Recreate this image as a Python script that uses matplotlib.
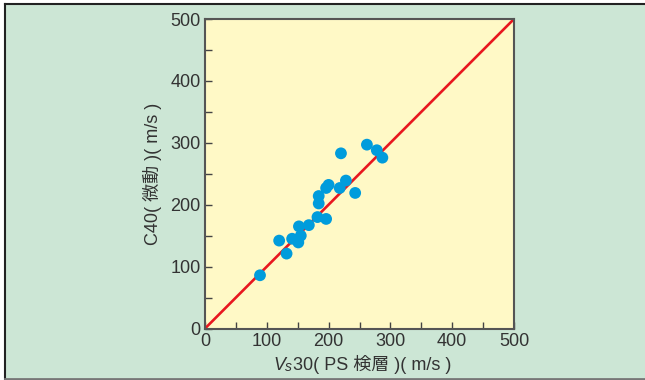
import numpy as np
import matplotlib
matplotlib.use("Agg")
import matplotlib.pyplot as plt
from matplotlib.patches import Rectangle
from matplotlib.ticker import MultipleLocator

plt.rcParams['font.family'] = ['Liberation Sans', 'Noto Sans CJK JP']

# Vs30 (PS logging) vs C40 (microtremor), m/s
vs30 = [89, 120, 132, 141, 151, 155, 152, 168, 182, 196, 184, 184, 196, 200, 218, 228, 243, 220, 262, 278, 287]
c40 = [86, 142, 121, 145, 139, 150, 165, 167, 180, 177, 202, 214, 227, 232, 227, 239, 219, 283, 297, 288, 276]
lim = [0, 500]

W, H = 645, 380
fig = plt.figure(figsize=(W / 100, H / 100), dpi=100, facecolor='white')

# panel background with frame lines
fig.add_artist(Rectangle((5 / W, 1 - 379 / H), 1, 375 / H, transform=fig.transFigure,
                         facecolor='#cce6d5', edgecolor='none', zorder=-10))
fig.add_artist(plt.Line2D([5 / W, 1], [1 - 4 / H, 1 - 4 / H], transform=fig.transFigure,
                          color='#222222', lw=1.5))
fig.add_artist(plt.Line2D([5 / W, 5 / W], [1 - 4 / H, 1 - 379 / H], transform=fig.transFigure,
                          color='#222222', lw=1.5))
fig.add_artist(plt.Line2D([5 / W, 1], [1 - 378.5 / H, 1 - 378.5 / H], transform=fig.transFigure,
                          color='#777777', lw=2))

ax = fig.add_axes([205 / W, 1 - 328.5 / H, 309 / W, 309.5 / H])
ax.set_facecolor('#fff9c6')

ax.plot(lim, lim, color='#e8171f', lw=1.9, zorder=2)
ax.scatter(vs30, c40, s=72, color='#009cdc', edgecolors='none', zorder=3)

ax.set_xlim(lim)
ax.set_ylim(lim)
for a in (ax.xaxis, ax.yaxis):
    a.set_major_locator(MultipleLocator(100))
    a.set_minor_locator(MultipleLocator(50))
ax.tick_params(which='both', direction='in', length=5, width=1, color='#444444',
               labelsize=13, labelcolor='#333333', pad=3)
for s in ax.spines.values():
    s.set_color('#555555')
    s.set_linewidth(1.5)

ax.set_ylabel('C40( 微動 )( m/s )', fontsize=13, color='#333333', labelpad=6)

# x label: italic V with small italic s, then the rest
t1 = fig.text(273 / W, 1 - 370 / H, 'V', fontsize=13, style='italic', color='#333333',
              ha='left', va='baseline')
ax.annotate('s', xy=(1, 0), xycoords=t1, xytext=(0.3, 0), textcoords='offset points',
            fontsize=10, style='italic', color='#333333', ha='left', va='bottom',
            annotation_clip=False)
ax.annotate('30( PS 検層 )( m/s )', xy=(1, 0), xycoords=t1, xytext=(6, 0),
            textcoords='offset points', fontsize=13, color='#333333', ha='left', va='bottom',
            annotation_clip=False)

fig.savefig('out.png', dpi=100, facecolor='white')
